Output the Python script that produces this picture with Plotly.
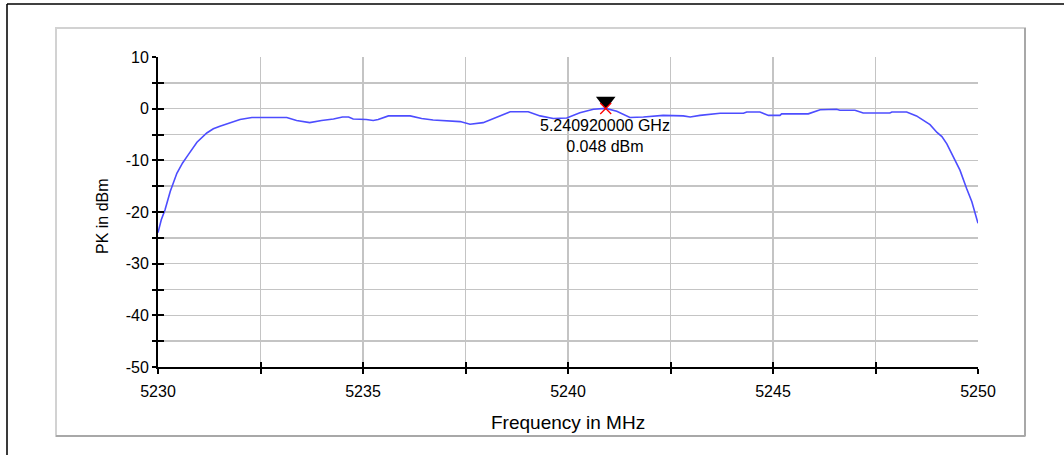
import plotly.graph_objects as go

# ---- data ----
freq_mhz = [5230.00, 5230.08, 5230.17, 5230.30, 5230.46, 5230.60, 5230.74, 5230.95,
            5231.19, 5231.35, 5231.51, 5231.75, 5232.00, 5232.29, 5233.14, 5233.38,
            5233.70, 5233.99, 5234.28, 5234.50, 5234.65, 5234.76, 5235.08, 5235.25,
            5235.37, 5235.62, 5236.15, 5236.43, 5236.71, 5237.37, 5237.61, 5237.93,
            5238.26, 5238.59, 5239.03, 5239.32, 5239.64, 5239.97, 5240.29, 5240.62,
            5240.92, 5241.19, 5241.51, 5241.84, 5242.32, 5242.81, 5242.98, 5243.22,
            5243.71, 5244.28, 5244.36, 5244.68, 5244.89, 5245.17, 5245.21, 5245.86,
            5246.15, 5246.55, 5246.63, 5247.00, 5247.20, 5247.85, 5247.90, 5248.26,
            5248.50, 5248.83, 5249.00, 5249.12, 5249.24, 5249.40, 5249.56, 5249.72,
            5249.85, 5250.00]
pk_dbm = [-24.0, -21.5, -19.6, -16.0, -12.5, -10.5, -8.9, -6.5,
          -4.7, -3.9, -3.4, -2.7, -2.1, -1.7, -1.7, -2.3,
          -2.7, -2.3, -2.0, -1.6, -1.6, -2.0, -2.1, -2.3,
          -2.1, -1.4, -1.4, -1.9, -2.2, -2.5, -3.0, -2.7,
          -1.6, -0.6, -0.6, -1.4, -1.9, -1.8, -0.8, -0.1,
          0.048, -0.5, -1.7, -1.6, -1.3, -1.4, -1.6, -1.3,
          -0.9, -0.9, -0.65, -0.65, -1.3, -1.3, -1.0, -1.0,
          -0.2, -0.1, -0.3, -0.3, -0.85, -0.85, -0.65, -0.65,
          -1.4, -3.1, -4.6, -5.4, -6.8, -9.3, -11.9, -15.4,
          -18.0, -22.2]

peak_freq_mhz = 5240.92
peak_dbm = 0.048
peak_label = ["5.240920000 GHz", "0.048 dBm"]

x_tickvals = [5230, 5232.5, 5235, 5237.5, 5240, 5242.5, 5245, 5247.5, 5250]
x_ticktext = ["5230", "", "5235", "", "5240", "", "5245", "", "5250"]
y_tickvals = [10, 5, 0, -5, -10, -15, -20, -25, -30, -35, -40, -45, -50]
y_ticktext = ["10", "", "0", "", "-10", "", "-20", "", "-30", "", "-40", "", "-50"]

x_title = "Frequency in MHz"
y_title = "PK in dBm"

# ---- layout geometry (pixels) ----
W, H = 1064, 455
ML, MR, MT, MB = 158, 86, 57, 88
PW, PH = W - ML - MR, H - MT - MB
X_RANGE = [5230, 5250]
Y_RANGE = [-50, 10]


def px(xp):
    return (xp - ML) / PW


def py(yp):
    return (H - MB - yp) / PH


FONT = "Liberation Sans, Arial, sans-serif"

fig = go.Figure()

fig.add_trace(go.Scatter(
    x=freq_mhz, y=pk_dbm, mode="lines",
    line=dict(color="#4d4dff", width=1.6),
    hoverinfo="skip", showlegend=False,
))

# marker triangle, sitting just above the peak point
tri_offset_db = 7.5 * (Y_RANGE[1] - Y_RANGE[0]) / PH
fig.add_trace(go.Scatter(
    x=[peak_freq_mhz], y=[peak_dbm + tri_offset_db], mode="markers",
    marker=dict(symbol="triangle-down", size=17, color="black"),
    hoverinfo="skip", showlegend=False,
))
fig.add_trace(go.Scatter(
    x=[peak_freq_mhz], y=[peak_dbm], mode="markers",
    marker=dict(symbol="x-thin", size=11, line=dict(color="red", width=1.3)),
    hoverinfo="skip", showlegend=False,
))

# invisible trace for overlay axes (inside half of crossing ticks)
fig.add_trace(go.Scatter(
    x=[X_RANGE[0]], y=[Y_RANGE[0]], xaxis="x2", yaxis="y2", mode="markers",
    marker=dict(opacity=0), hoverinfo="skip", showlegend=False,
))

fig.add_annotation(
    x=peak_freq_mhz, y=peak_dbm, xref="x", yref="y",
    text="<br>".join(peak_label), showarrow=False,
    xanchor="center", yanchor="top", yshift=-7, xshift=-1,
    font=dict(family=FONT, size=16, color="black"), align="center",
)

fig.add_annotation(
    x=px(568), y=py(422), xref="paper", yref="paper",
    text=x_title, showarrow=False, xanchor="center", yanchor="middle",
    font=dict(family=FONT, size=19, color="black"),
)
fig.add_annotation(
    x=px(102), y=py(216), xref="paper", yref="paper",
    text=y_title, showarrow=False, xanchor="center", yanchor="middle",
    textangle=-90,
    font=dict(family=FONT, size=16, color="black"),
)

axis_common = dict(
    showline=True, linecolor="black", linewidth=2,
    ticks="outside", tickwidth=2, tickcolor="black",
    showgrid=True, gridcolor="#c4c4c4", gridwidth=1.5,
    zeroline=False, tickfont=dict(family=FONT, size=16, color="black"),
    fixedrange=True,
)

fig.update_layout(
    width=W, height=H,
    margin=dict(l=ML, r=MR, t=MT, b=MB),
    paper_bgcolor="white", plot_bgcolor="white",
    xaxis=dict(range=X_RANGE, tickmode="array", tickvals=x_tickvals,
               ticktext=x_ticktext, ticklen=5, ticklabelstandoff=4,
               **axis_common),
    yaxis=dict(range=Y_RANGE, tickmode="array", tickvals=y_tickvals,
               ticktext=y_ticktext, ticklen=4, ticklabelstandoff=0,
               **axis_common),
    xaxis2=dict(range=X_RANGE, overlaying="x", showline=False, ticks="inside",
                ticklen=5, tickwidth=2, tickcolor="black", tickmode="array",
                tickvals=x_tickvals, showticklabels=False, showgrid=False,
                zeroline=False, anchor="y2", side="bottom", fixedrange=True),
    yaxis2=dict(range=Y_RANGE, overlaying="y", showline=False, ticks="inside",
                ticklen=6, tickwidth=2, tickcolor="black", tickmode="array",
                tickvals=y_tickvals, showticklabels=False, showgrid=False,
                zeroline=False, anchor="x2", side="left", fixedrange=True),
    font=dict(family=FONT, size=16, color="black"),
)

# panel frame and outer frame (decoration)
fig.add_shape(type="rect", xref="paper", yref="paper",
              x0=px(56), x1=px(1025), y0=py(436), y1=py(28),
              line=dict(color="#d2d2d2", width=2), layer="below")
fig.add_shape(type="line", xref="paper", yref="paper",
              x0=px(1025), x1=px(1025), y0=py(436), y1=py(28),
              line=dict(color="#a8a8a8", width=2), layer="below")
fig.add_shape(type="line", xref="paper", yref="paper",
              x0=px(56), x1=px(1025), y0=py(436), y1=py(436),
              line=dict(color="#a8a8a8", width=2), layer="below")
fig.add_shape(type="line", xref="paper", yref="paper",
              x0=px(7), x1=px(7), y0=py(455), y1=py(4),
              line=dict(color="#3a3a3a", width=2), layer="below")
fig.add_shape(type="line", xref="paper", yref="paper",
              x0=px(7), x1=px(1064), y0=py(4), y1=py(4),
              line=dict(color="black", width=1.5), layer="below")

fig.write_html(
    "out.html",
    config={"displayModeBar": False, "staticPlot": True},
    post_script="document.body.style.margin='0px';document.body.style.overflow='hidden';",
)
